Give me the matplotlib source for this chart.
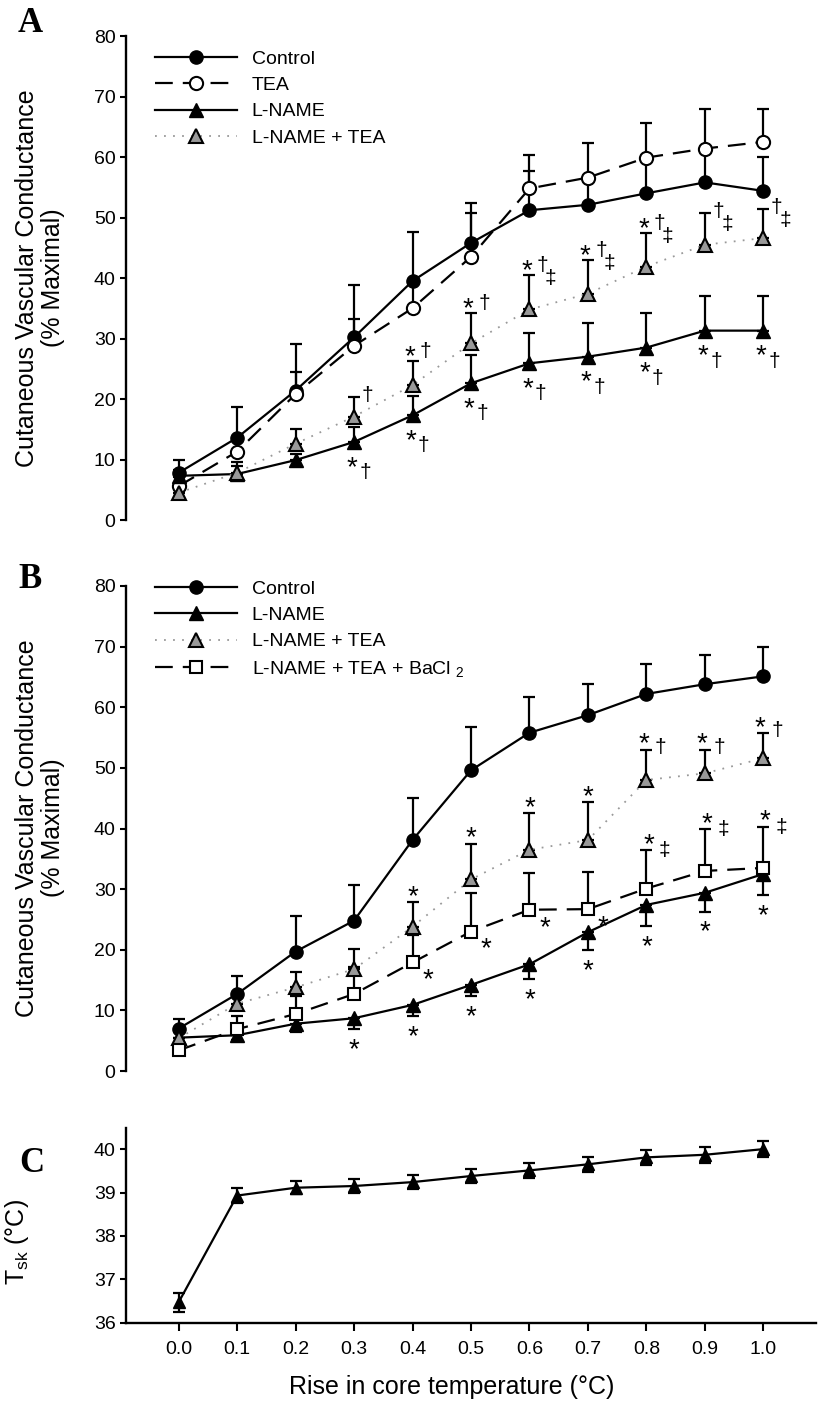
import matplotlib
matplotlib.use("Agg")
import matplotlib.pyplot as plt

plt.rcParams['font.family'] = ['Liberation Sans', 'DejaVu Sans']
plt.rcParams['mathtext.fontset'] = 'custom'
plt.rcParams['mathtext.rm'] = 'Liberation Sans'
plt.rcParams['mathtext.it'] = 'Liberation Sans:italic'

# rise in core temperature (°C)
x = [0.0, 0.1, 0.2, 0.3, 0.4, 0.5, 0.6, 0.7, 0.8, 0.9, 1.0]
x_labels = ["0.0", "0.1", "0.2", "0.3", "0.4", "0.5", "0.6", "0.7", "0.8", "0.9", "1.0"]

# Panel A: CVC (% maximal), mean and SE
a_control = [7.8, 13.6, 21.4, 30.2, 39.5, 45.8, 51.2, 52.1, 54.0, 55.8, 54.4]
a_control_se = [2.1, 5.1, 7.7, 8.6, 8.1, 6.6, 6.5, 4.5, 5.5, 5.5, 5.6]
a_tea = [5.6, 11.3, 20.8, 28.8, 35.0, 43.5, 54.8, 56.6, 59.9, 61.4, 62.5]
a_tea_se = [1.5, 2.0, 3.6, 4.4, 4.0, 7.2, 5.5, 5.7, 5.8, 6.6, 5.5]
a_lname = [7.3, 7.6, 9.9, 12.9, 17.3, 22.6, 25.9, 27.0, 28.5, 31.3, 31.3]
a_lname_se = [1.0, 2.0, 1.0, 2.5, 3.2, 4.7, 5.0, 5.5, 5.7, 5.8, 5.8]
a_lt = [4.5, 7.8, 12.6, 17.1, 22.3, 29.2, 34.8, 37.4, 41.9, 45.5, 46.6]
a_lt_se = [1.0, 1.2, 2.4, 3.3, 3.9, 5.0, 5.7, 5.5, 5.5, 5.2, 4.8]
a_lname_sig = ["", "", "", "*†", "*†", "*†", "*†", "*†", "*†", "*†", "*†"]
a_lt_sig = ["", "", "", "†", "*†", "*†", "*†‡", "*†‡", "*†‡", "†‡", "†‡"]

# Panel B
b_control = [7.0, 12.7, 19.7, 24.8, 38.1, 49.6, 55.8, 58.7, 62.2, 63.8, 65.1]
b_control_se = [1.5, 3.0, 5.8, 5.9, 6.9, 7.2, 5.9, 5.2, 5.0, 4.9, 4.8]
b_lname = [5.5, 5.9, 7.8, 8.7, 10.9, 14.2, 17.6, 22.9, 27.4, 29.4, 32.5]
b_lname_se = [0.8, 0.8, 1.4, 1.8, 1.8, 1.9, 2.5, 2.9, 3.5, 3.1, 3.5]
b_lt = [5.4, 11.1, 13.8, 16.8, 23.8, 31.6, 36.5, 38.1, 48.0, 49.1, 51.6]
b_lt_se = [1.2, 1.5, 2.6, 3.4, 4.1, 5.9, 6.0, 6.2, 5.0, 3.9, 4.2]
b_ba = [3.4, 6.9, 9.4, 12.7, 17.9, 23.0, 26.6, 26.7, 30.1, 33.0, 33.5]
b_ba_se = [0.8, 2.1, 2.9, 4.5, 4.5, 6.3, 6.0, 6.2, 6.4, 6.9, 6.8]
b_lname_sig = ["", "", "", "*", "*", "*", "*", "*", "*", "*", "*"]
b_lt_sig = ["", "", "", "", "*", "*", "*", "*", "*†", "*†", "*†"]
b_ba_sig = ["", "", "", "", "*", "*", "*", "*", "*‡", "*‡", "*‡"]

# Panel C: skin temperature (°C)
c_tsk = [36.47, 38.93, 39.11, 39.15, 39.24, 39.38, 39.51, 39.65, 39.81, 39.87, 40.0]
c_tsk_se = [0.22, 0.18, 0.15, 0.16, 0.16, 0.17, 0.17, 0.17, 0.17, 0.18, 0.19]

W, H = 819, 1401
fig = plt.figure(figsize=(W / 100, H / 100), dpi=100)


def rect(top, bottom):
    return [126 / W, 1 - bottom / H, 690 / W, (bottom - top) / H]


axA = fig.add_axes(rect(36, 520))
axB = fig.add_axes(rect(586, 1071))
axC = fig.add_axes(rect(1128.3, 1322.7))

st_control = dict(color="black", lw=1.6, marker="o", ms=9.5, mfc="black", mec="black")
st_tea = dict(color="black", lw=1.6, ls=(0, (8, 4.5)), marker="o", ms=9.5, mfc="white", mec="black", mew=1.5)
st_lname = dict(color="black", lw=1.6, marker="^", ms=10, mfc="black", mec="black")
st_lt = dict(color="0.6", lw=1.3, ls=(0, (1, 4)), marker="^", ms=10, mfc="0.6", mec="black", mew=1.5)
st_ba = dict(color="black", lw=1.6, ls=(0, (8, 4.5)), marker="s", ms=8.5, mfc="white", mec="black", mew=1.5)


def series(ax, y, se, st, label, err="up"):
    zeros = [0] * len(se)
    lo = se if err in ("down", "both") else zeros
    hi = se if err in ("up", "both") else zeros
    ax.errorbar(x, y, yerr=[lo, hi], fmt="none", ecolor="black", elinewidth=1.6,
                capsize=4.5, capthick=1.6, zorder=2.5, clip_on=False)
    h, = ax.plot(x, y, label=label, zorder=3, clip_on=False, **st)
    return h


def sig(ax, xs, ys, labels, offs):
    # offs: function(text) -> dict of char -> (dx, dy) pixel offsets of glyph centre
    for xi, yi, t in zip(xs, ys, labels):
        if not t:
            continue
        table = offs(t)
        for ch in t:
            dx, dy = table[ch]
            if ch == "*":
                size, base = 20, dy - 15
            else:
                size, base = 15, dy - 6
            ax.annotate(ch, (xi, yi), xytext=(dx, base), textcoords="offset pixels",
                        ha="center", va="baseline", fontsize=size, annotation_clip=False)


def style_axis(ax, ylim, yticks):
    ax.set_xlim(-0.09, 1.09)
    ax.set_ylim(*ylim)
    ax.set_yticks(yticks)
    for s in ("top", "right"):
        ax.spines[s].set_visible(False)
    for s in ("left", "bottom"):
        ax.spines[s].set_linewidth(1.7)
    ax.tick_params(axis="y", direction="out", length=4.5, width=1.5, labelsize=14, pad=3)
    ax.patch.set_alpha(0)


leg_kw = dict(loc="upper left", frameon=False, fontsize=14, handlelength=4.2,
              handletextpad=0.77, labelspacing=0.44, borderpad=0, borderaxespad=0,
              numpoints=1)

# ---- Panel A
hA = [series(axA, a_control, a_control_se, st_control, "Control"),
      series(axA, a_tea, a_tea_se, st_tea, "TEA"),
      series(axA, a_lname, a_lname_se, st_lname, "L-NAME"),
      series(axA, a_lt, a_lt_se, st_lt, "L-NAME + TEA")]
sig(axA, x, a_lname, a_lname_sig, lambda t: {"*": (-2, -18), "†": (11, -30)})
a_lt_top = [m + s for m, s in zip(a_lt, a_lt_se)]
sig(axA, x, a_lt_top, a_lt_sig,
    lambda t: {"*": (-3, 12), "†": (13, 10), "‡": (21, -3)} if "*" in t
    else {"†": (13, 2), "‡": (22, -11)})
style_axis(axA, (0, 80), range(0, 81, 10))
axA.spines["bottom"].set_visible(False)
axA.set_xticks([])
axA.legend(handles=hA, bbox_to_anchor=(0.042, 0.97), **leg_kw)

# ---- Panel B
hB = [series(axB, b_control, b_control_se, st_control, "Control"),
      series(axB, b_lname, b_lname_se, st_lname, "L-NAME", err="down"),
      series(axB, b_lt, b_lt_se, st_lt, "L-NAME + TEA"),
      series(axB, b_ba, b_ba_se, st_ba, "L-NAME + TEA + BaCl $_{2}$")]
b_lname_bot = [m - s for m, s in zip(b_lname, b_lname_se)]
sig(axB, x, b_lname_bot, b_lname_sig, lambda t: {"*": (0, -13)})
b_lt_top = [m + s for m, s in zip(b_lt, b_lt_se)]
sig(axB, x, b_lt_top, b_lt_sig, lambda t: {"*": (-3, 13), "†": (14, 3)} if "†" in t else {"*": (0, 13)})
b_ba_top = [m + s for m, s in zip(b_ba, b_ba_se)]
sig(axB, x, b_ba_top, [t if "‡" in t else "" for t in b_ba_sig], lambda t: {"*": (2, 13), "‡": (18, 0)})
sig(axB, x, b_ba, [t if "‡" not in t else "" for t in b_ba_sig], lambda t: {"*": (15, -10)})
style_axis(axB, (0, 80), range(0, 81, 10))
axB.spines["bottom"].set_visible(False)
axB.set_xticks([])
axB.legend(handles=hB, bbox_to_anchor=(0.042, 1.0115), **leg_kw)

# ---- Panel C
axC.errorbar(x, c_tsk, yerr=c_tsk_se, fmt="none", ecolor="black", elinewidth=1.6,
             capsize=4.5, capthick=1.6, zorder=2.5, clip_on=False)
axC.plot(x, c_tsk, color="black", lw=1.6, marker="^", ms=9, zorder=3, clip_on=False)
style_axis(axC, (36, 40.48), [36, 37, 38, 39, 40])
axC.set_xticks(x)
axC.set_xticklabels(x_labels)
axC.tick_params(axis="x", direction="out", length=5.5, width=1.5, labelsize=14, pad=8)

# ---- labels
ylab = "Cutaneous Vascular Conductance\n(% Maximal)"
fig.text(40 / W, 1 - 278 / H, ylab, rotation=90, ha="center", va="center",
         multialignment="center", fontsize=18, linespacing=1.1)
fig.text(40 / W, 1 - 828 / H, ylab, rotation=90, ha="center", va="center",
         multialignment="center", fontsize=18, linespacing=1.1)
fig.text(17 / W, 1 - 1242 / H, r"T$_{\mathregular{sk}}$ (°C)", rotation=90,
         ha="center", va="center", fontsize=18)
fig.text(452 / W, 1 - 1387 / H, "Rise in core temperature (°C)", ha="center",
         va="center", fontsize=18)
for lab, px, py in (("A", 30, 23), ("B", 30, 580), ("C", 32, 1163)):
    fig.text(px / W, 1 - py / H, lab, ha="center", va="center", fontsize=25,
             fontweight="bold", family="Liberation Serif")

fig.savefig("out.png", dpi=100)
